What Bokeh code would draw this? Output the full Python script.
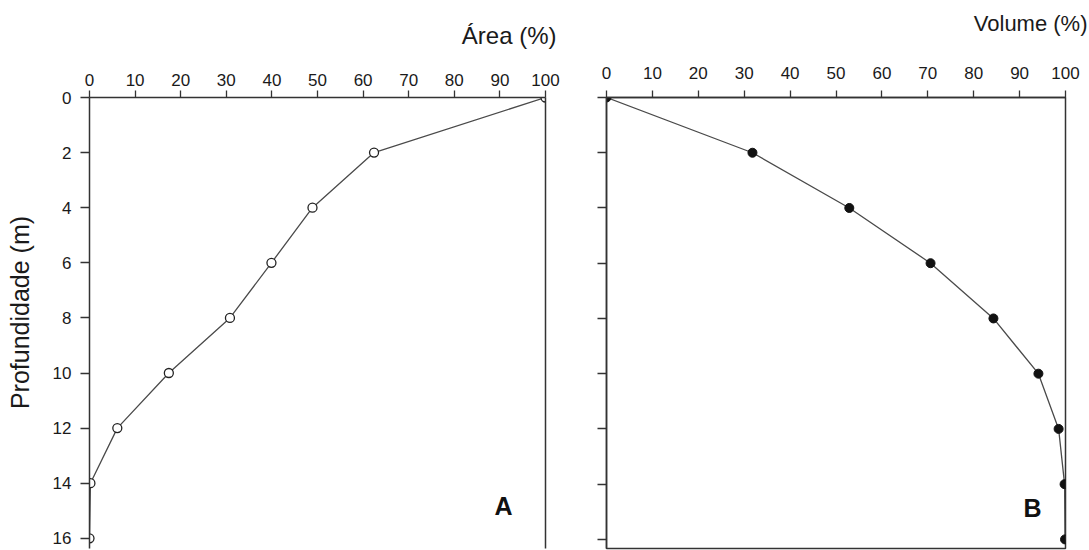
import math
from bokeh.plotting import figure
from bokeh.models import Range1d, LinearAxis, Label, FixedTicker
from bokeh.layouts import row, column
from bokeh.embed import file_html
from bokeh.resources import INLINE

# ---- data ----
depth = [0, 2, 4, 6, 8, 10, 12, 14, 16]
area_pct = [100, 62.4, 48.9, 39.9, 30.8, 17.4, 6.1, 0.2, 0.0]
volume_pct = [0, 31.8, 52.9, 70.6, 84.3, 94.1, 98.5, 99.8, 99.9]
pct_ticks = [0, 10, 20, 30, 40, 50, 60, 70, 80, 90, 100]
depth_ticks = [0, 2, 4, 6, 8, 10, 12, 14, 16]

FONT = "Liberation Sans"
AXC = "#333333"
TXT = "#1a1a1a"

TOP_H = 52          # strip that carries the two axis titles
YLAB_W = 40         # strip that carries the vertical y-axis title
PANEL_H = 550 - TOP_H
FRAME_TOP = 97      # page y of the top axes (frames in a row are aligned)
FRAME_BOT = 548     # page y of the frame bottoms


def blank_fig(width, height, yr):
    p = figure(width=width, height=height, x_range=Range1d(0, width),
               y_range=yr, x_axis_type=None, y_axis_type=None,
               output_backend="svg", toolbar_location=None, min_border=0)
    p.grid.visible = False
    p.outline_line_color = None
    p.background_fill_color = "white"
    p.border_fill_color = "white"
    return p


def style_axis(ax, ticks, tick_out, standoff, labels=True):
    ax.ticker = FixedTicker(ticks=ticks)
    ax.axis_line_color = AXC
    ax.axis_line_width = 1.5
    ax.major_tick_line_color = AXC
    ax.major_tick_line_width = 1.3
    ax.major_tick_in = 0
    ax.major_tick_out = tick_out
    ax.minor_tick_line_color = None
    ax.major_label_text_font = FONT
    ax.major_label_text_font_size = "17px"
    ax.major_label_text_color = TXT
    ax.major_label_standoff = standoff
    if not labels:
        ax.major_label_overrides = {t: "" for t in ticks}


def make_fig(width, left, right, yend):
    p = figure(width=width, height=PANEL_H,
               x_range=Range1d(0, 100), y_range=Range1d(yend, 0),
               x_axis_location="above",
               output_backend="svg", toolbar_location=None,
               min_border_left=left, min_border_right=right,
               min_border_top=FRAME_TOP - TOP_H, min_border_bottom=550 - FRAME_BOT)
    p.grid.visible = False
    p.outline_line_color = None
    p.background_fill_color = "white"
    p.border_fill_color = "white"
    return p


# ---------- title strip (page pixel coordinates) ----------
tf = blank_fig(1089, TOP_H, Range1d(TOP_H, 0))
tf.add_layout(Label(x=556, y=35, text="Área (%)", text_align="right",
                    text_baseline="middle", text_font=FONT, text_font_size="24px",
                    text_color=TXT))
tf.add_layout(Label(x=1087, y=23, text="Volume (%)", text_align="right",
                    text_baseline="middle", text_font=FONT, text_font_size="22px",
                    text_color=TXT))

# ---------- y title strip (its frame is aligned with the panels' frames) ----------
yf = blank_fig(YLAB_W, PANEL_H, Range1d(FRAME_BOT, FRAME_TOP))
yf.add_layout(Label(x=19, y=312, text="Profundidade (m)", angle=math.pi / 2,
                    text_align="center", text_baseline="middle", text_font=FONT,
                    text_font_size="25px", text_color=TXT))

# ---------- Panel A ----------
pa = make_fig(575 - YLAB_W, 89 - YLAB_W, 30, 16.37)
style_axis(pa.xaxis[0], pct_ticks, 7, 5)
style_axis(pa.yaxis[0], depth_ticks, 9, 9)
ra = LinearAxis(ticker=FixedTicker(ticks=[]), axis_line_color=AXC, axis_line_width=1.5,
                major_tick_line_color=None, minor_tick_line_color=None)
pa.add_layout(ra, "right")

pa.line(area_pct, depth, line_color="#4a4a4a", line_width=1.3)
pa.scatter(area_pct, depth, size=9, marker="circle", fill_color="white",
           line_color="#222222", line_width=1.3)
pa.add_layout(Label(x=90.8, y=14.84, text="A", text_align="center",
                    text_baseline="middle", text_font=FONT, text_font_size="25px",
                    text_font_style="bold", text_color="#111111"))

# ---------- Panel B ----------
pb = make_fig(514, 31, 24, 16.33)
pb.outline_line_color = AXC
pb.outline_line_width = 1.5
style_axis(pb.xaxis[0], pct_ticks, 7, 12)
style_axis(pb.yaxis[0], depth_ticks, 9, 5, labels=False)

pb.line(volume_pct, depth, line_color="#4a4a4a", line_width=1.3)
pb.scatter(volume_pct, depth, size=9, marker="circle", fill_color="#111111",
           line_color="#111111", line_width=1.0)
pb.add_layout(Label(x=92.8, y=14.88, text="B", text_align="center",
                    text_baseline="middle", text_font=FONT, text_font_size="25px",
                    text_font_style="bold", text_color="#111111"))

layout = column(tf, row(yf, pa, pb, spacing=0), spacing=0)
open("out.html", "w").write(file_html(layout, INLINE))
